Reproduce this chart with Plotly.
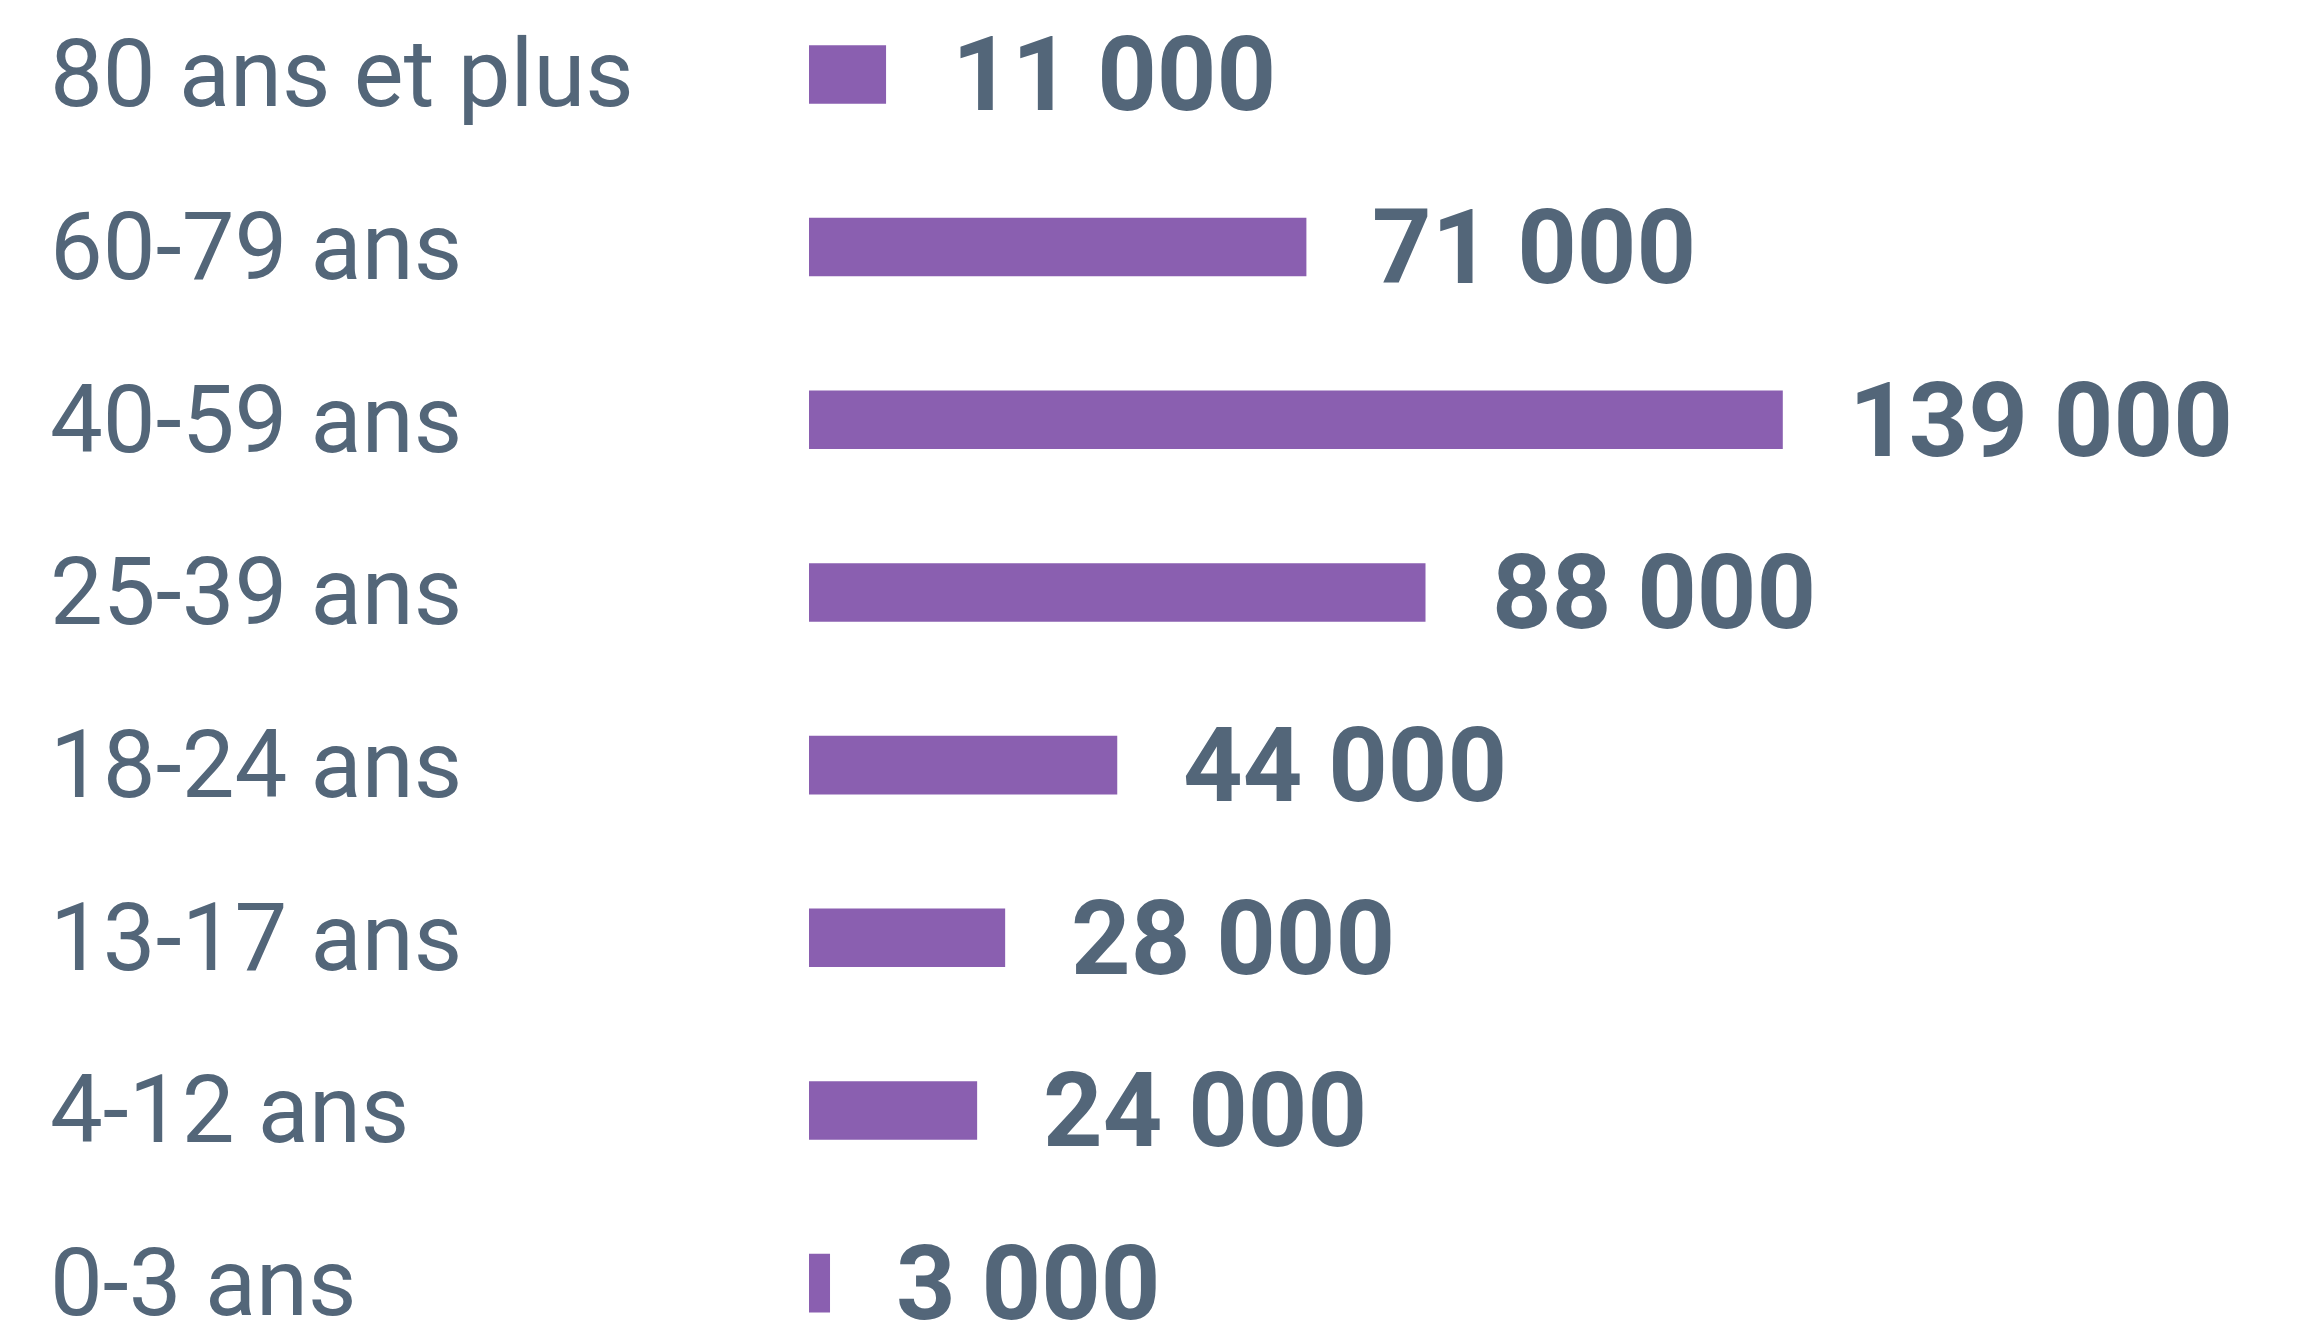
import plotly.graph_objects as go

# Age groups, top to bottom, and the number of people in each
age_groups = ["80 ans et plus", "60-79 ans", "40-59 ans", "25-39 ans",
              "18-24 ans", "13-17 ans", "4-12 ans", "0-3 ans"]
people = [11000, 71000, 139000, 88000, 44000, 28000, 24000, 3000]

BAR_COLOR = "#8A5FB0"
TEXT_COLOR = "#536679"
W, H = 2297, 1337


def fmt(v):
    # French thousands separator
    return f"{v:,}".replace(",", " ")


fig = go.Figure(
    go.Bar(
        x=people,
        y=age_groups,
        orientation="h",
        width=0.339,
        marker=dict(color=BAR_COLOR, line=dict(width=0)),
        hoverinfo="skip",
    )
)

annotations = []
for label, v in zip(age_groups, people):
    # category label, left-aligned in the left column
    annotations.append(dict(
        text=label, xref="paper", yref="y", x=48 / W, y=label,
        xanchor="left", yanchor="middle", showarrow=False,
        font=dict(family="Roboto", size=94, color=TEXT_COLOR),
    ))
    # value label just past the end of each bar
    annotations.append(dict(
        text=fmt(v), xref="x", yref="y", x=v, y=label,
        xanchor="left", yanchor="middle", valign="middle", height=104,
        showarrow=False, xshift=64,
        font=dict(family="Roboto", size=104, color=TEXT_COLOR, weight="bold"),
    ))

fig.update_layout(
    width=W, height=H,
    margin=dict(l=0, r=0, t=0, b=0),
    paper_bgcolor="white", plot_bgcolor="white",
    showlegend=False,
    annotations=annotations,
    xaxis=dict(visible=False, range=[0, 212400], domain=[809 / W, 1], fixedrange=True),
    yaxis=dict(visible=False, type="category", categoryorder="array",
               categoryarray=age_groups, range=[7.312, -0.431], fixedrange=True),
)

fig.write_html("out.html", config={"displayModeBar": False})
